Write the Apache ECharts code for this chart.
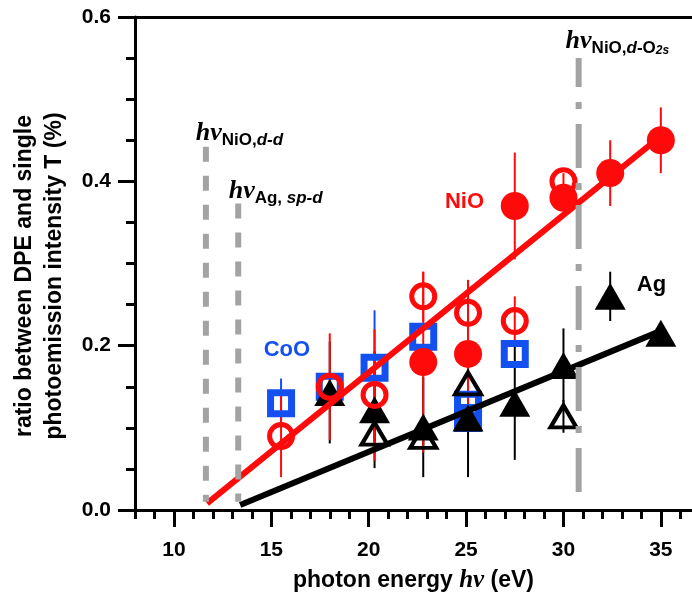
<!DOCTYPE html>
<html><head><meta charset="utf-8">
<script src="https://cdn.jsdelivr.net/npm/echarts@6/dist/echarts.min.js"></script>
<style>html,body{margin:0;padding:0;background:#fff}#c{width:692px;height:601px}</style>
</head><body><div id="c"></div>
<script>
// ---------- data (photon energy in eV, ratio T in %) ----------
const nioFilledX   = [22.8, 25.1, 27.5, 30.0, 32.4, 35.0];
const nioFilledY   = [0.180, 0.190, 0.370, 0.380, 0.410, 0.450];
const nioFilledErr = [0.110, 0.090, 0.065, 0.015, 0.040, 0.040];

const nioOpenX   = [15.5, 18.0, 20.3, 22.8, 25.1, 27.5, 30.0];
const nioOpenY   = [0.090, 0.150, 0.140, 0.260, 0.240, 0.230, 0.400];
const nioOpenErr = [0.050, 0.065, 0.080, 0.030, 0.040, 0.030, 0.010];

const agFilledX   = [18.0, 20.3, 22.8, 25.1, 27.5, 30.0, 32.4, 35.0];
const agFilledY   = [0.143, 0.122, 0.101, 0.112, 0.130, 0.176, 0.260, 0.215];
const agFilledErr = [0.062, 0.071, 0.061, 0.072, 0.069, 0.045, 0.030, 0.000];

const agOpenX   = [20.3, 22.8, 25.1, 30.0];
const agOpenY   = [0.093, 0.089, 0.154, 0.114];
const agOpenErr = [0.010, 0.010, 0.010, 0.020];

const cooX   = [15.5, 18.0, 20.3, 22.8, 25.1, 25.1, 27.5];
const cooY   = [0.130, 0.150, 0.173, 0.211, 0.128, 0.112, 0.190];
const cooErr = [0.030, 0.000, 0.070, 0.000, 0.000, 0.000, 0.000];

// linear fits (endpoints)
const nioFitX = [11.7, 35.0];
const nioFitY = [0.008, 0.455];
const agFitX  = [13.4, 35.0];
const agFitY  = [0.006, 0.218];

// threshold energies (vertical reference lines)
const refNiOdd   = 11.64;
const refAgspd   = 13.30;
const refNiOdO2s = 30.78;
const refTopNiOdd = 0.442, refTopAgspd = 0.373, refTopNiOdO2s = 0.550, refBottom = 0.010;

// ticks
const xMajorTicks = [10, 15, 20, 25, 30, 35];
const xMinorTicks = [8, 9, 11, 12, 13, 14, 16, 17, 18, 19, 21, 22, 23, 24, 26, 27, 28, 29, 31, 32, 33, 34, 36];
const xMin = 8, xMax = 36.6;
const yMin = 0, yMax = 0.6, yStep = 0.2;

// ---------- styling ----------
const FONT = '"Liberation Sans", Arial, sans-serif';
const SERIF = '"Liberation Serif", "Times New Roman", serif';
const RED = '#ff0a0a', BLUE = '#1450f0', BLACK = '#000000', GRAY = '#a3a3a3';

const chart = echarts.init(document.getElementById('c'), null, {renderer: 'canvas'});

function pts(xs, ys) { return xs.map((x, i) => [x, ys[i]]); }
function errSeries(xs, ys, es, color) {
  return {
    type: 'custom', silent: true, xAxisIndex: 0, yAxisIndex: 0,
    data: xs.map((x, i) => [x, ys[i], es[i]]),
    encode: {x: 0, y: 1},
    renderItem: function (params, api) {
      const x = api.value(0), y = api.value(1), e = api.value(2);
      if (!e) return {type: 'group', children: []};
      const a = api.coord([x, y - e]), b = api.coord([x, y + e]);
      return {type: 'line', shape: {x1: a[0], y1: a[1], x2: b[0], y2: b[1]},
              style: {stroke: color, lineWidth: 2}};
    }
  };
}
function scatter(xs, ys, symbol, size, fill, stroke, bw) {
  return {
    type: 'scatter', silent: true, xAxisIndex: 0, yAxisIndex: 0,
    data: pts(xs, ys), symbol: symbol, symbolSize: size,
    itemStyle: {color: fill, borderColor: stroke, borderWidth: bw, opacity: 1},
    emphasis: {disabled: true}
  };
}
function line(xs, ys, color, width, type, dashOffset) {
  return {
    type: 'line', silent: true, xAxisIndex: 0, yAxisIndex: 0,
    data: pts(xs, ys), symbol: 'none',
    lineStyle: {color: color, width: width, type: type || 'solid', dashOffset: dashOffset || 0, cap: 'butt'},
    emphasis: {disabled: true}
  };
}

const axisLineStyle = {color: BLACK, width: 3};
const option = {
  animation: false,
  backgroundColor: '#fff',
  grid: {left: 135, right: 0, top: 17, bottom: 91, containLabel: false},
  xAxis: [
    { type: 'value', min: xMin, max: xMax, position: 'bottom',
      axisLine: {show: true, onZero: false, lineStyle: axisLineStyle},
      axisTick: {show: true, customValues: xMinorTicks, length: 9, lineStyle: {color: BLACK, width: 3}},
      axisLabel: {show: false}, splitLine: {show: false} },
    { type: 'value', min: xMin, max: xMax, position: 'bottom',
      axisLine: {show: false, onZero: false},
      axisTick: {show: true, customValues: xMajorTicks, length: 17, lineStyle: {color: BLACK, width: 3}},
      axisLabel: {show: true, customValues: xMajorTicks, margin: 30,
                  fontFamily: FONT, fontWeight: 'bold', fontSize: 21, color: BLACK},
      splitLine: {show: false},
      name: '{a|photon energy }{b|hν}{a| (eV)}', nameLocation: 'middle', nameGap: 58,
      nameTextStyle: {rich: {
        a: {fontFamily: FONT, fontWeight: 'bold', fontSize: 23, color: BLACK},
        b: {fontFamily: SERIF, fontStyle: 'italic', fontWeight: 'bold', fontSize: 25, color: BLACK}
      }} },
    { type: 'value', min: xMin, max: xMax, position: 'top',
      axisLine: {show: true, onZero: false, lineStyle: axisLineStyle},
      axisTick: {show: false}, axisLabel: {show: false}, splitLine: {show: false} }
  ],
  yAxis: [
    { type: 'value', min: yMin, max: yMax, interval: yStep, position: 'left',
      axisLine: {show: true, onZero: false, lineStyle: axisLineStyle},
      axisTick: {show: true, length: 17, lineStyle: {color: BLACK, width: 3}},
      minorTick: {show: true, splitNumber: 4, length: 9, lineStyle: {color: BLACK, width: 3}},
      axisLabel: {show: true, margin: 24, fontFamily: FONT, fontWeight: 'bold', fontSize: 21, color: BLACK,
                  formatter: v => v.toFixed(1)},
      splitLine: {show: false}, minorSplitLine: {show: false} }
  ],
  series: [
    // CoO
    errSeries(cooX, cooY, cooErr, BLUE),
    scatter(cooX, cooY, 'rect', 21, 'rgba(0,0,0,0)', BLUE, 7),
    // Ag open
    errSeries(agOpenX, agOpenY, agOpenErr, BLACK),
    scatter(agOpenX, agOpenY, 'triangle', [26, 22], 'rgba(0,0,0,0)', BLACK, 4),
    // Ag filled
    errSeries(agFilledX, agFilledY, agFilledErr, BLACK),
    scatter(agFilledX, agFilledY, 'triangle', [31, 27], BLACK, BLACK, 0),
    // Ag fit
    line(agFitX, agFitY, BLACK, 6),
    // NiO open
    errSeries(nioOpenX, nioOpenY, nioOpenErr, RED),
    scatter(nioOpenX, nioOpenY, 'circle', 23, 'rgba(0,0,0,0)', RED, 5),
    // NiO filled
    errSeries(nioFilledX, nioFilledY, nioFilledErr, RED),
    scatter(nioFilledX, nioFilledY, 'circle', 28, RED, RED, 0),
    // NiO fit
    line(nioFitX, nioFitY, RED, 6),
    // reference lines
    line([refNiOdd, refNiOdd], [refTopNiOdd, refBottom], GRAY, 6, [15, 14], 0),
    line([refAgspd, refAgspd], [refTopAgspd, refBottom], GRAY, 6, [15, 14], 0),
    line([refNiOdO2s, refNiOdO2s], [refTopNiOdO2s, refBottom], GRAY, 6, [44, 15, 7, 15], 15)
  ]
};
chart.setOption(option);

// ---------- annotations anchored in data space ----------
const richHv = {
  hv: {fontFamily: SERIF, fontStyle: 'italic', fontWeight: 'bold', fontSize: 26, lineHeight: 32, fill: BLACK},
  s:  {fontFamily: FONT, fontWeight: 'bold', fontSize: 17, lineHeight: 14, verticalAlign: 'bottom', fill: BLACK},
  si: {fontFamily: FONT, fontWeight: 'bold', fontStyle: 'italic', fontSize: 17, lineHeight: 14, verticalAlign: 'bottom', fill: BLACK},
  ss: {fontFamily: FONT, fontWeight: 'bold', fontStyle: 'italic', fontSize: 12, lineHeight: 6, verticalAlign: 'bottom', fill: BLACK}
};
const hvLabels = [
  {x: 11.12, y: 0.459, text: '{hv|hν}{s|NiO,}{si|d-d}'},
  {x: 12.81, y: 0.388, text: '{hv|hν}{s|Ag, }{si|sp-d}'},
  {x: 30.11, y: 0.571, text: '{hv|hν}{s|NiO,}{si|d}{s|-O}{ss|2s}'}
];
const nameLabels = [
  {x: 24.92, y: 0.375, text: 'NiO', color: RED},
  {x: 34.52, y: 0.274, text: 'Ag',  color: BLACK},
  {x: 15.80, y: 0.195, text: 'CoO', color: BLUE}
];
const toPx = (x, y) => chart.convertToPixel({seriesIndex: 1}, [x, y]);
const graphics = [];
hvLabels.forEach(l => {
  const p = toPx(l.x, l.y);
  graphics.push({type: 'text', x: p[0], y: p[1], z: 100, silent: true,
    style: {text: l.text, rich: richHv, align: 'left', verticalAlign: 'middle'}});
});
nameLabels.forEach(l => {
  const p = toPx(l.x, l.y);
  graphics.push({type: 'text', x: p[0], y: p[1], z: 100, silent: true,
    style: {text: l.text, fill: l.color, fontFamily: FONT, fontWeight: 'bold', fontSize: 22,
            align: 'center', verticalAlign: 'middle'}});
});
graphics.push({type: 'text', x: 40, y: 276, rotation: Math.PI / 2, z: 100, silent: true,
  style: {text: 'ratio between DPE and single\nphotoemission intensity T (%)', fill: BLACK,
          fontFamily: FONT, fontWeight: 'bold', fontSize: 23, lineHeight: 30,
          align: 'center', verticalAlign: 'middle'}});
chart.setOption({graphic: graphics});
</script></body></html>
